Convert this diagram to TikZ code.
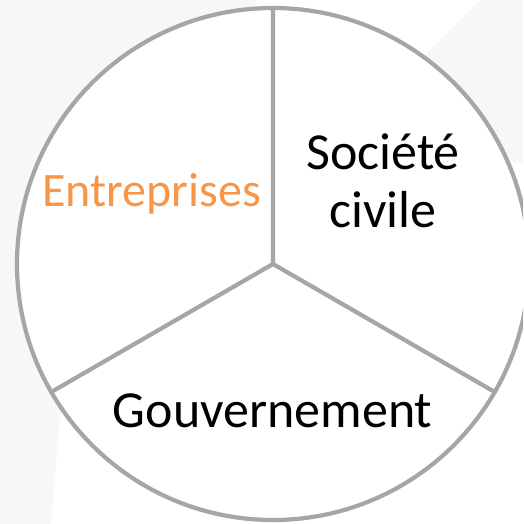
\documentclass[tikz,border=0pt]{standalone}
\usepackage{xcolor}
\usepackage{fontspec}
\setmainfont{Carlito}
\usepackage{tikz}
\usetikzlibrary{arrows, shapes, calc}
\definecolor{fondgris}{HTML}{F7F7F7}
\definecolor{traitgris}{HTML}{A6A6A6}
\definecolor{orangeoffice}{HTML}{F79646}

\begin{document}
\begin{tikzpicture}[x=1pt, y=-1pt]
			\tikzstyle{every node} = [font = \fontsize{52}{58}\selectfont, anchor = base, align = center]
			\tikzstyle{secteur} = [draw = traitgris, line width = 4.2pt]
				\useasboundingbox (0,0) rectangle (523,524);
				\clip (0,0) rectangle (523,524);
				% fond
				\path[fill = fondgris] (0,0) rectangle (523,524);
				\path[fill = white] (257,0)-- (480,0)-- (420,60)-- (514,163)--
					(523,162)-- (523,524)-- (51,524)-- (60,415)-- cycle;
				% cercle et rayons
				\coordinate (centre) at (273,264);
				\coordinate (haut) at ($(centre)+(0,-256)$);
				\coordinate (gauche) at ($(centre)+(-221.7,128)$);
				\coordinate (droite) at ($(centre)+(221.7,128)$);
				\path[secteur, fill = white] (centre) circle (256);
				\path[secteur, line cap = round] (haut)-- (centre)-- (gauche);
				\path[secteur, line cap = round] (centre)-- (droite);
				% textes
				\node[text = orangeoffice, font = \fontsize{48}{58}\selectfont] (entreprises) at (151.5,206) {Entreprises};
				\node (societe) at (383,227) {Société\\civile};
				\node (gouvernement) at (272.5,427) {Gouvernement};
		\end{tikzpicture}
\end{document}
